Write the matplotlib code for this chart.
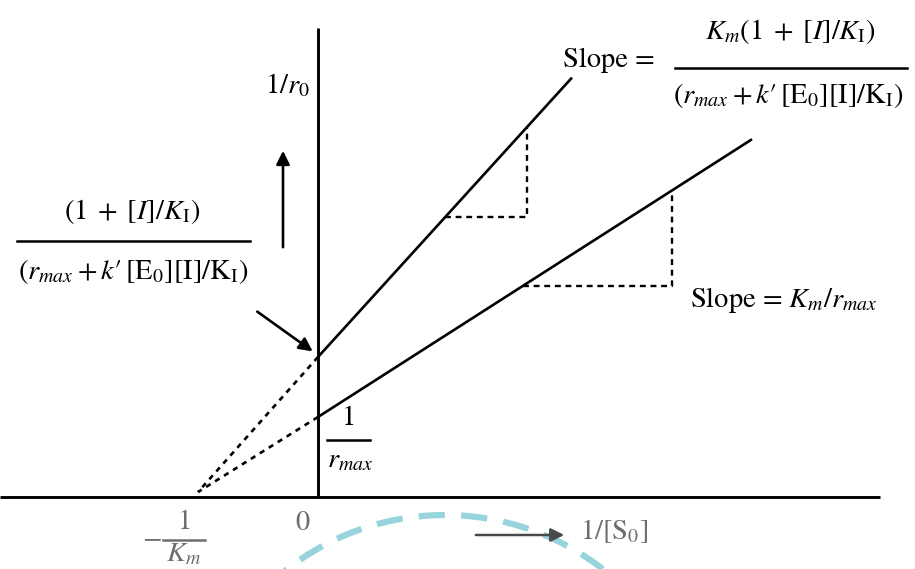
import matplotlib
matplotlib.use("Agg")
import matplotlib.pyplot as plt
from matplotlib.patches import Circle, FancyArrowPatch
import numpy as np

# ---- data (in plot units: 1/[S0] horizontally, 1/r0 vertically) ----
neg_inv_km = -1.20          # common x-intercept  (-1/Km)
conv_y = 0.05               # dashed extrapolations end just above axis
intercepts = [1.40, 0.80]   # inhibited, uninhibited 1/r0 intercepts
slopes = [1.10, 0.64]
x_ends = [2.54, 4.34]
tri_x = [[1.27, 2.09], [2.05, 3.54]]   # slope-triangle x extents

plt.rcParams['mathtext.fontset'] = 'stix'
plt.rcParams['font.family'] = ['STIXGeneral', 'Liberation Serif', 'DejaVu Serif']

fig = plt.figure(figsize=(9.15, 5.69), dpi=100)
ax = fig.add_axes([0, 0, 1, 1])
ax.set_xlim(-3.18, 5.97)
ax.set_ylim(-0.72, 4.97)
ax.axis('off')

def P(px, py):
    return (px - 318) / 100.0, (497 - py) / 100.0

# watermark arc
wm = Circle(P(445, 772), 2.57, fill=False, ec='#86cdd8', lw=4.5, alpha=0.85,
            linestyle=(0, (4.2, 2.6)), zorder=0)
ax.add_patch(wm)

LW = 1.9
# axes
ax.plot([-3.18, 5.62], [0, 0], color='black', lw=2.1, solid_capstyle='butt', zorder=3)
ax.plot([0, 0], [0, 4.69], color='black', lw=2.1, solid_capstyle='butt', zorder=3)

# lines
for b, m, xe in zip(intercepts, slopes, x_ends):
    xs = np.array([0, xe])
    ax.plot(xs, b + m * xs, color='black', lw=LW, solid_capstyle='butt', zorder=3)
    ax.plot([0, neg_inv_km], [b, conv_y], color='black', lw=LW,
            linestyle=(0, (2.0, 2.0)), zorder=3)

# slope triangles
for (b, m), (x1, x2) in zip(zip(intercepts, slopes), tri_x):
    y1, y2 = b + m * x1, b + m * x2
    ax.plot([x1, x2, x2], [y1, y1, y2], color='black', lw=1.7,
            linestyle=(0, (2.5, 2.0)), zorder=2)

FS = 20.5
DEN = r"$(r_{max} + k\prime\,[\mathrm{E}_0][\mathrm{I}]/\mathrm{K}_\mathrm{I})$"

# y-axis label and arrow
ax.text(*P(287, 86), r'$1/r_0$', fontsize=FS, ha='center', va='center')
ax.add_patch(FancyArrowPatch(P(283, 250), P(283, 148), arrowstyle='-|>',
                             mutation_scale=20, lw=LW, color='black'))

# left intercept fraction
ax.text(*P(132, 212), r'$(1\; +\; [I]/K_\mathrm{I})$', fontsize=FS, ha='center', va='center')
ax.plot(*zip(P(17, 241), P(250, 241)), color='black', lw=1.8)
ax.text(*P(133, 272), DEN, fontsize=FS, ha='center', va='center')
ax.add_patch(FancyArrowPatch(P(255, 310), P(315, 353), arrowstyle='-|>',
                             mutation_scale=20, lw=LW, color='black'))

# 1/rmax
ax.text(*P(348, 418), r'$1$', fontsize=FS, ha='center', va='center')
ax.plot(*zip(P(327, 440), P(370, 440)), color='black', lw=1.8)
ax.text(*P(350, 461), r'$r_{max}$', fontsize=FS, ha='center', va='center')

# top slope label
ax.text(*P(609, 60), 'Slope =', fontsize=FS, ha='center', va='center')
ax.text(*P(790, 32), r'$K_m(1\; +\; [I]/K_\mathrm{I})$', fontsize=FS, ha='center', va='center')
ax.plot(*zip(P(675, 68), P(907, 68)), color='black', lw=1.8)
ax.text(*P(788, 95), DEN, fontsize=FS, ha='center', va='center')

# lower slope label
ax.text(*P(690, 300), r'Slope = $K_m/r_{max}$', fontsize=FS, ha='left', va='center')

# bottom axis labels
g = '#6e6e6e'
ax.text(*P(152, 539), r'$-$', fontsize=FS, ha='center', va='center', color=g)
ax.text(*P(184, 522), r'$1$', fontsize=FS, ha='center', va='center', color=g)
ax.plot(*zip(P(163, 540), P(205, 540)), color=g, lw=1.8)
ax.text(*P(184, 555), r'$K_m$', fontsize=FS, ha='center', va='center', color=g)
ax.text(*P(303, 523), r'$0$', fontsize=FS, ha='center', va='center', color=g)
ax.add_patch(FancyArrowPatch(P(473, 535), P(567, 535), arrowstyle='-|>',
                             mutation_scale=20, lw=1.8, color='#4a4a4a'))
ax.text(*P(580, 531), r'$1/[\mathrm{S}_0]$', fontsize=FS, ha='left', va='center', color=g)

fig.savefig('out.png', dpi=100)
